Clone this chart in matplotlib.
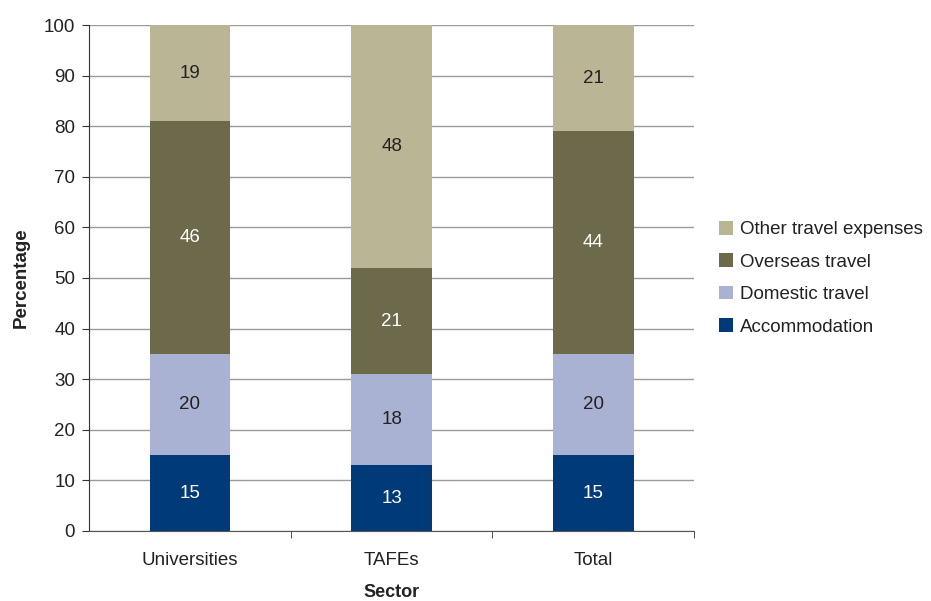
import numpy as np
import matplotlib.pyplot as plt
from matplotlib.patches import Patch

plt.rcParams['font.family'] = ['Liberation Sans', 'DejaVu Sans']

sectors = ['Universities', 'TAFEs', 'Total']
accommodation = [15, 13, 15]
domestic = [20, 18, 20]
overseas = [46, 21, 44]
other = [19, 48, 21]

series = [
    ('Accommodation', accommodation, '#003a78', 'white'),
    ('Domestic travel', domestic, '#a9b2d3', '#222222'),
    ('Overseas travel', overseas, '#6d6a4c', 'white'),
    ('Other travel expenses', other, '#bab594', '#222222'),
]

fig = plt.figure(figsize=(9.31, 6.01), dpi=100)
ax = fig.add_axes([0.0956, 0.1165, 0.650, 0.8419])

x = np.arange(len(sectors))
bottom = np.zeros(len(sectors))
handles = []
for name, vals, color, tcolor in series:
    vals = np.array(vals, dtype=float)
    ax.bar(x, vals, 0.4, bottom=bottom, color=color, zorder=3)
    for xi, b, v in zip(x, bottom, vals):
        ax.text(xi, b + v / 2, f'{v:.0f}', ha='center', va='center',
                color=tcolor, fontsize=13.5, zorder=4)
    bottom += vals
    handles.append(Patch(facecolor=color, label=name))

ax.set_xlim(-0.5, 2.5)
ax.set_ylim(0, 100)
ax.set_yticks(range(0, 101, 10))
ax.yaxis.grid(True, color='#9a9a9a', linewidth=1, zorder=0)
ax.set_xticks(x)
ax.set_xticklabels(sectors)
ax.set_xticks([0.5, 1.5, 2.5], minor=True)
ax.tick_params(axis='x', which='major', length=0, pad=15, labelsize=13.5, labelcolor='#222222')
ax.tick_params(axis='x', which='minor', length=5, color='#333333')
ax.tick_params(axis='y', length=5, color='#333333', labelsize=13.5, labelcolor='#222222', pad=5)

for s in ['top', 'right']:
    ax.spines[s].set_visible(False)
ax.spines['left'].set_color('#333333')
ax.spines['bottom'].set_color('#555555')

ax.set_ylabel('Percentage', fontsize=13.5, fontweight='bold', labelpad=10, color='#222222')
ax.set_xlabel('Sector', fontsize=13, fontweight='bold', labelpad=11, color='#222222')

fig.legend(handles=handles[::-1], loc='center left', bbox_to_anchor=(0.754, 0.537),
           frameon=False, fontsize=13.5, handlelength=0.75, handleheight=0.75,
           handletextpad=0.4, labelspacing=0.8, labelcolor='#222222')

fig.savefig('out.png', dpi=100)
